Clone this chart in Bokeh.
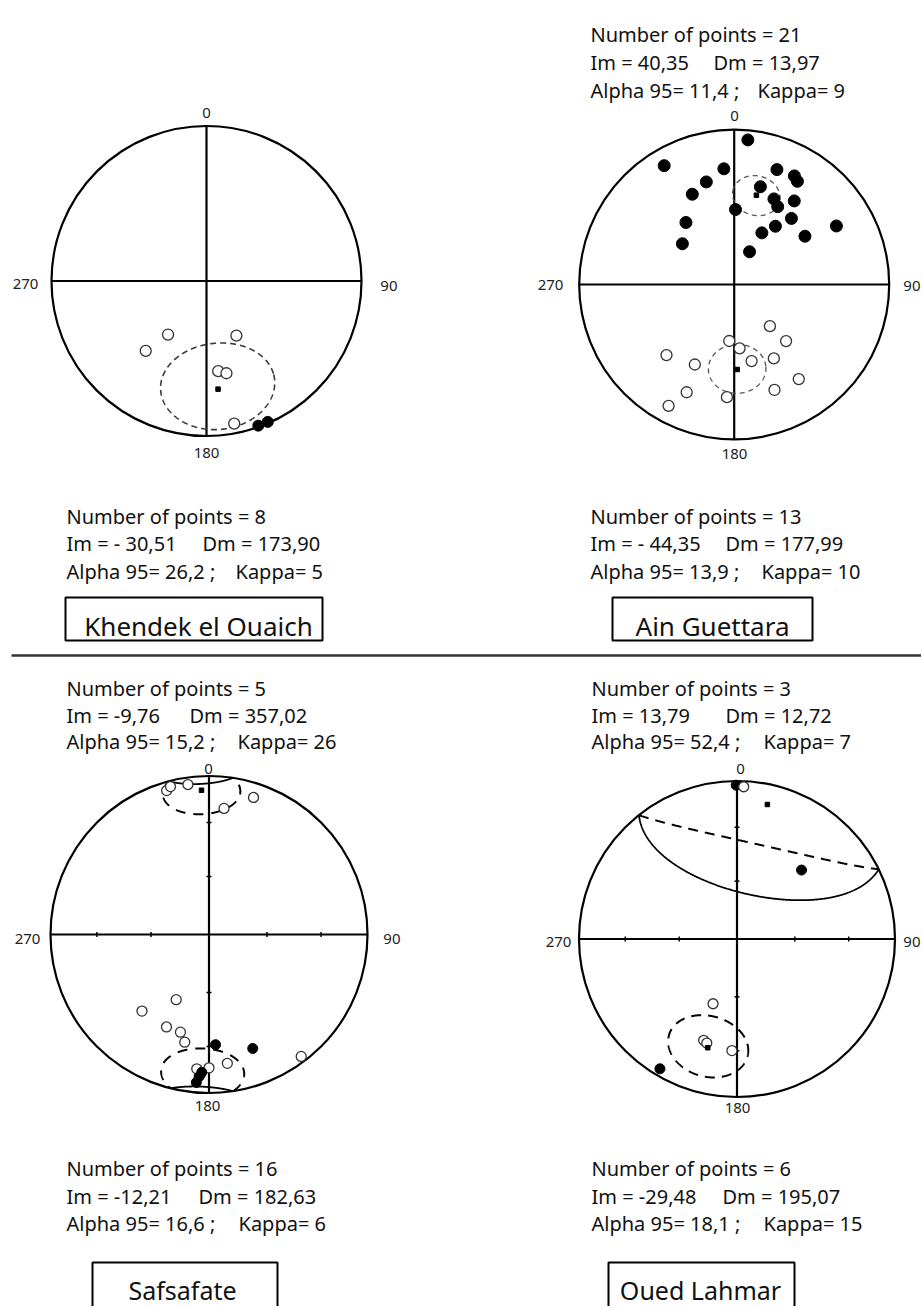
import numpy as np
from bokeh.plotting import figure
from bokeh.models import Range1d
from bokeh.core.properties import value
from bokeh.embed import file_html
from bokeh.resources import INLINE

# ---------------- data (declination, inclination in degrees) ----------------
# Khendek el Ouaich
kho_open_dec = [215.7, 221.0, 151.3, 172.6, 167.8, 169.0]
kho_open_inc = [-55, -40, -57, -41, -39, -7]
kho_fill_dec = [160.3, 156.5]
kho_fill_inc = [1, 1]
kho_mean = [173.90, -30.51, 26.2]          # Dm, Im, alpha95

# Ain Guettara
ain_fill_dec = [5.4, 329.5, 354.9, 20.4, 344.8, 29.0, 31.5, 15.0, 335.1, 24.9, 35.7,
                29.2, 1.0, 40.9, 322.1, 35.3, 60.2, 28.2, 55.7, 308.2, 25.1]
ain_fill_inc = [7, 12, 26, 22, 32, 21, 23, 35, 36, 39, 34, 42, 50, 43, 48, 52, 25, 59, 44, 55, 71]
ain_open_dec = [139.4, 185.0, 137.5, 175.2, 223.8, 167.2, 151.8, 206.2, 145.7, 203.8, 159.1, 183.7, 208.4]
ain_open_inc = [-61, -60, -49, -56, -37, -48, -45, -42, -27, -25, -28, -28, -12]
ain_mean_n = [13.97, 40.35, 11.4]
ain_mean_r = [177.99, -44.35, 13.9]

# Safsafate
saf_top_open_dec = [343.6, 345.4, 352.0, 6.8, 18.0]
saf_top_open_inc = [-6, -4, -5, -21, -10]
saf_bot_open_dec = [206.7, 221.2, 204.7, 196.3, 192.7, 142.9, 171.9, 185.2, 180.0]
saf_bot_open_inc = [-52, -36, -36, -36, -31, -4, -19, -16, -17]
saf_bot_fill_dec = [176.6, 159.0, 183.0, 184.0, 184.9]
saf_bot_fill_inc = [31, 24, 14, 11, 7]
saf_mean_top = [357.02, -9.76, 15.2]
saf_mean_bot = [182.63, -12.21, 16.6]

# Oued Lahmar
oul_top_fill_dec = [359.7, 43.1]
oul_top_fill_inc = [3, 40]
oul_top_open_dec = [2.5]
oul_top_open_inc = [-4]
oul_bot_open_dec = [200.3, 198.2, 196.2, 182.6]
oul_bot_open_inc = [-54, -33, -32, -30]
oul_bot_fill_dec = [210.7]
oul_bot_fill_inc = [5]
oul_mean_top = [12.72, 13.79, 52.4]
oul_mean_bot = [195.07, -29.48, 18.1]

tick_incs = [30, 60]
dir_labels = ["0", "90", "180", "270"]

# text blocks
ain_header = ["Number of points = 21", "Im = 40,35", "Dm = 13,97", "Alpha 95= 11,4 ;", "Kappa= 9"]
kho_footer = ["Number of points = 8", "Im = - 30,51", "Dm = 173,90", "Alpha 95= 26,2 ;", "Kappa= 5"]
ain_footer = ["Number of points = 13", "Im = - 44,35", "Dm = 177,99", "Alpha 95= 13,9 ;", "Kappa= 10"]
saf_header = ["Number of points = 5", "Im =  -9,76", "Dm = 357,02", "Alpha 95= 15,2 ;", "Kappa= 26"]
oul_header = ["Number of points = 3", "Im =  13,79", "Dm = 12,72", "Alpha 95= 52,4 ;", "Kappa= 7"]
saf_footer = ["Number of points = 16", "Im = -12,21", "Dm = 182,63", "Alpha 95= 16,6 ;", "Kappa= 6"]
oul_footer = ["Number of points = 6", "Im = -29,48", "Dm = 195,07", "Alpha 95= 18,1 ;", "Kappa= 15"]
site_names = ["Khendek el Ouaich", "Ain Guettara", "Safsafate", "Oued Lahmar"]

# ---------------- helpers ----------------
SQ2 = np.sqrt(2.0)
FONT = value("Noto Sans")
W, H = 921, 1306


def project(dec, inc, cx, cy, R):
    dec = np.radians(np.asarray(dec, float))
    ainc = np.abs(np.asarray(inc, float))
    r = R * SQ2 * np.sin(np.radians(90.0 - ainc) / 2.0)
    return cx + r * np.sin(dec), cy - r * np.cos(dec)


def cone(dm, im, a95, n=721):
    D, I, A = np.radians([dm, im, a95])
    m = np.array([np.cos(I) * np.cos(D), np.cos(I) * np.sin(D), np.sin(I)])
    ref = np.array([0.0, 0.0, 1.0]) if abs(m[2]) < 0.9 else np.array([1.0, 0.0, 0.0])
    u = np.cross(m, ref)
    u /= np.linalg.norm(u)
    w = np.cross(m, u)
    t = np.linspace(0, 2 * np.pi, n)
    v = np.cos(A) * m[:, None] + np.sin(A) * (np.cos(t) * u[:, None] + np.sin(t) * w[:, None])
    inc = np.degrees(np.arcsin(np.clip(v[2], -1, 1)))
    dec = np.degrees(np.arctan2(v[1], v[0]))
    return dec, inc


def split_runs(dec, inc):
    dec = np.asarray(dec)[:-1]
    inc = np.asarray(inc)[:-1]
    s = inc >= 0
    n = len(s)
    if s.all() or (~s).all():
        idx = list(range(n)) + [0]
        return [(dec[idx], inc[idx], bool(s[0]))]
    k = int(np.argmax(s != np.roll(s, 1)))
    dec = np.roll(dec, -k)
    inc = np.roll(inc, -k)
    s = np.roll(s, -k)
    out = []
    start = 0
    for i in range(1, n + 1):
        if i == n or s[i] != s[start]:
            idx = list(range(start, i)) + [i % n]
            out.append((dec[idx], inc[idx], bool(s[start])))
            start = i
    return out


p = figure(width=W, height=H, x_range=Range1d(0, W), y_range=Range1d(H, 0),
           toolbar_location=None, output_backend="svg", min_border=0,
           x_axis_location=None, y_axis_location=None,
           background_fill_color="white", border_fill_color="white")
p.grid.visible = False
p.outline_line_color = None


def draw_net(cx, cy, R, ticks, labpos, right_x):
    p.segment(x0=[cx - R, cx], y0=[cy, cy - R], x1=[cx + R, cx], y1=[cy, cy + R],
              line_color="black", line_width=2.2)
    p.circle(x=[cx], y=[cy], radius=R, fill_color=None, line_color="black", line_width=2.2)
    if ticks:
        rr = [R * SQ2 * np.sin(np.radians(90 - t) / 2) for t in tick_incs]
        x0, y0, x1, y1 = [], [], [], []
        for r in rr:
            for sgn in (-1, 1):
                x0 += [cx + sgn * r]; x1 += [cx + sgn * r]; y0 += [cy - 2.5]; y1 += [cy + 2.5]
                x0 += [cx - 2.5]; x1 += [cx + 2.5]; y0 += [cy + sgn * r]; y1 += [cy + sgn * r]
        p.segment(x0=x0, y0=y0, x1=x1, y1=y1, line_color="black", line_width=1.5)
    # 0, 180, 270 centred; 90 right-aligned so that it stays inside the page
    p.text(x=[labpos[0][0], labpos[2][0], labpos[3][0]],
           y=[labpos[0][1], labpos[2][1], labpos[3][1]],
           text=[dir_labels[0], dir_labels[2], dir_labels[3]],
           text_font=FONT, text_font_size="15px", text_align="center",
           text_baseline="middle", text_color="#222")
    p.text(x=[right_x], y=[labpos[1][1]], text=[dir_labels[1]],
           text_font=FONT, text_font_size="15px", text_align="right",
           text_baseline="middle", text_color="#222")


def draw_cone(cx, cy, R, mean, dash, dash_color, dash_w, solid_w=1.8, force_dash=False):
    dec, inc = cone(*mean)
    for d, i, lower in split_runs(dec, inc):
        x, y = project(d, i, cx, cy, R)
        if lower and not force_dash:
            p.line(x, y, line_color="black", line_width=solid_w)
        else:
            p.line(x, y, line_color=dash_color, line_width=dash_w, line_dash=dash)


def draw_points(cx, cy, R, dec, inc, filled, size=11):
    x, y = project(dec, inc, cx, cy, R)
    if filled:
        p.scatter(x, y, marker="circle", size=size, fill_color="black", line_color="black")
    else:
        p.scatter(x, y, marker="circle", size=size, fill_color="white", line_color="#333",
                  line_width=1.3)


def draw_mean(cx, cy, R, mean):
    x, y = project([mean[0]], [mean[1]], cx, cy, R)
    p.scatter(x, y, marker="square", size=4.5, fill_color="black", line_color="black")


# ---------------- panels ----------------
# Khendek el Ouaich (top left)
cx, cy, R = 206, 280.5, 155
draw_net(cx, cy, R, False, [(206, 112), (387, 285), (206, 452), (25, 283)], 397)
draw_cone(cx, cy, R, kho_mean, "6 4", "#3a3a3a", 1.6)
draw_points(cx, cy, R, kho_open_dec, kho_open_inc, False)
draw_points(cx, cy, R, kho_fill_dec, kho_fill_inc, True)
draw_mean(cx, cy, R, kho_mean)

# Ain Guettara (top right)
cx, cy, R = 733.7, 284, 155
draw_net(cx, cy, R, False, [(734, 115), (913, 285), (734, 453), (550, 284)], 920)
draw_cone(cx, cy, R, ain_mean_n, "5 4", "#555555", 1.3, force_dash=True)
draw_cone(cx, cy, R, ain_mean_r, "5 4", "#555555", 1.3, force_dash=True)
draw_points(cx, cy, R, ain_fill_dec, ain_fill_inc, True, 12)
draw_points(cx, cy, R, ain_open_dec, ain_open_inc, False, 11)
draw_mean(cx, cy, R, ain_mean_n)
draw_mean(cx, cy, R, ain_mean_r)

# Safsafate (bottom left)
cx, cy, R = 208.5, 934, 158.5
draw_net(cx, cy, R, True, [(208, 768), (390, 938), (207, 1105), (27, 938)], 400)
draw_cone(cx, cy, R, saf_mean_top, "10 8", "black", 2)
draw_cone(cx, cy, R, saf_mean_bot, "10 8", "black", 2)
draw_points(cx, cy, R, saf_top_open_dec, saf_top_open_inc, False, 10)
draw_points(cx, cy, R, saf_bot_open_dec, saf_bot_open_inc, False, 10)
draw_points(cx, cy, R, saf_bot_fill_dec, saf_bot_fill_inc, True, 10)
draw_mean(cx, cy, R, saf_mean_top)
draw_mean(cx, cy, R, saf_mean_bot)

# Oued Lahmar (bottom right)
cx, cy, R = 736.5, 938.5, 158
draw_net(cx, cy, R, True, [(740, 768), (921, 941), (737, 1107), (558, 941)], 920)
draw_cone(cx, cy, R, oul_mean_top, "10 7", "black", 2)
draw_cone(cx, cy, R, oul_mean_bot, "10 7", "black", 2)
draw_points(cx, cy, R, oul_top_fill_dec, oul_top_fill_inc, True, 10)
draw_points(cx, cy, R, oul_top_open_dec, oul_top_open_inc, False, 10)
draw_points(cx, cy, R, oul_bot_open_dec, oul_bot_open_inc, False, 10)
draw_points(cx, cy, R, oul_bot_fill_dec, oul_bot_fill_inc, True, 10)
draw_mean(cx, cy, R, oul_mean_top)
draw_mean(cx, cy, R, oul_mean_bot)

# ---------------- text blocks ----------------
tx, ty, ts = [], [], []


def add_block(lines, x0, ys, xdm, xk):
    tx.extend([x0, x0, xdm, x0, xk])
    ty.extend([ys[0], ys[1], ys[1], ys[2], ys[2]])
    ts.extend(lines)


add_block(ain_header, 590, [34, 62, 90], 713, 757)
add_block(kho_footer, 66, [516, 543, 571], 202, 235)
add_block(ain_footer, 590, [516, 543, 571], 725, 761)
add_block(saf_header, 66, [688, 715, 741], 189, 237)
add_block(oul_header, 591, [688, 715, 741], 725, 763)
add_block(saf_footer, 66, [1168, 1196, 1223], 198, 238)
add_block(oul_footer, 591, [1168, 1196, 1223], 722, 763)

p.text(x=tx, y=ty, text=ts, text_font=FONT, text_font_size="20px",
       text_align="left", text_baseline="alphabetic", text_color="#111")

# site boxes
box_l = [65, 612, 92, 608]
box_r = [322, 812, 277, 794]
box_t = [597, 597, 1262, 1262]
box_b = [640, 640, 1312, 1312]
p.quad(left=box_l, right=box_r, top=box_t, bottom=box_b, fill_color=None,
       line_color="black", line_width=2)
p.text(x=[198, 712], y=[625, 625], text=site_names[:2],
       text_font=FONT, text_font_size="26px", text_align="center",
       text_baseline="alphabetic", text_color="#111")
p.text(x=[182, 700], y=[1289, 1289], text=site_names[2:],
       text_font=FONT, text_font_size="25px", text_align="center",
       text_baseline="alphabetic", text_color="#111")

# separator
p.line(x=[11, W], y=[655, 655], line_color="#333333", line_width=2.6)

open("out.html", "w").write(file_html(p, INLINE))
